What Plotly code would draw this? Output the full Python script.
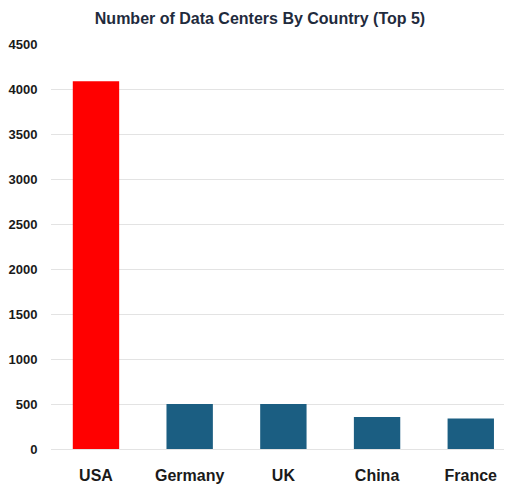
import plotly.graph_objects as go

countries = ["USA", "Germany", "UK", "China", "France"]
data_centers = [4085, 500, 500, 355, 338]
bar_colors = ["#ff0000", "#1b5e82", "#1b5e82", "#1b5e82", "#1b5e82"]
y_ticks = [0, 500, 1000, 1500, 2000, 2500, 3000, 3500, 4000, 4500]

# the page puts the figure 8px in from the top-left corner, so the
# figure is 8px smaller and the margins are trimmed to match
fig = go.Figure()
fig.add_trace(go.Bar(
    x=countries,
    y=data_centers,
    marker=dict(color=bar_colors, line=dict(width=0)),
))

fig.update_layout(
    width=504,
    height=484,
    margin=dict(l=40, r=0, t=36, b=43),
    paper_bgcolor="white",
    plot_bgcolor="white",
    bargap=0.505,
    showlegend=False,
    title=dict(
        text="<b>Number of Data Centers By Country (Top 5)</b>",
        x=0.5,
        xanchor="center",
        y=0.979,
        yanchor="middle",
        font=dict(family="Liberation Sans, Arial", size=16, color="#1f2b3d"),
    ),
    font=dict(family="Liberation Sans, Arial", color="#1a1a1a"),
)

fig.update_xaxes(
    range=[-0.48, 4.44],
    showgrid=False,
    showline=False,
    tickfont=dict(size=16, color="#1a1a1a", weight="bold"),
    ticks="outside",
    ticklen=12,
    tickcolor="rgba(0,0,0,0)",
)

fig.update_yaxes(
    range=[0, 4500],
    tickvals=y_ticks,
    showgrid=True,
    gridcolor="#e3e3e3",
    gridwidth=1,
    zeroline=True,
    zerolinecolor="#e3e3e3",
    zerolinewidth=1,
    showline=False,
    tickfont=dict(size=13, color="#1a1a1a", weight="bold"),
    ticks="outside",
    ticklen=10,
    tickcolor="rgba(0,0,0,0)",
)

fig.write_html("out.html")
